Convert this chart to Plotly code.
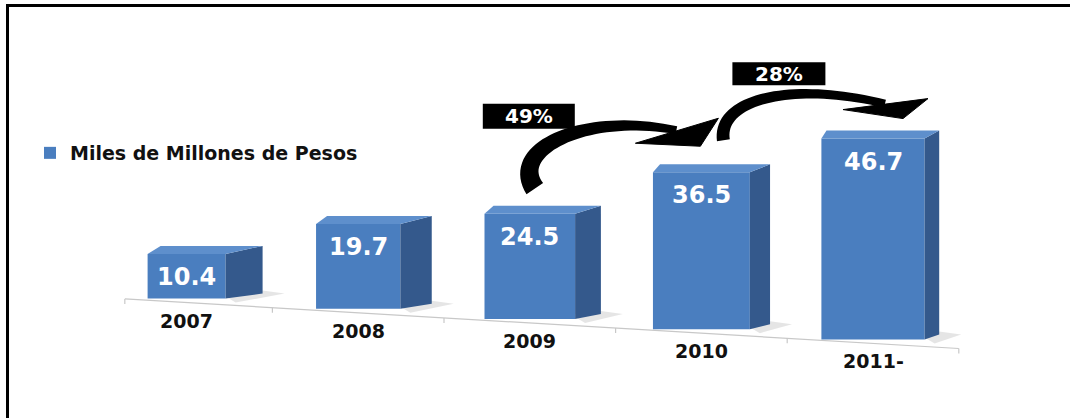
import numpy as np
import plotly.graph_objects as go

# ---------------- data ----------------
YEARS = ["2007", "2008", "2009", "2010", "2011"]
YEAR_LABELS = ["2007", "2008", "2009", "2010", "2011-"]
VALUES = [10.4, 19.7, 24.5, 36.5, 46.7]
SERIES_NAME = "Miles de Millones de Pesos"
GROWTH_LABELS = ["49%", "28%"]
GROWTH_FROM = [2, 3]          # arrow goes from bar i to bar i+1

# ---------------- layout constants (pixels) ----------------
W, H = 1070, 418
X0_PX, X_STEP = 186.6, 171.6      # centre of first category, px per category
Y0_PX, Y_SCALE = 298.6, 4.3       # floor of first bar, px per unit
FLOOR_DROP_PX = 10.2              # perspective drop of the floor per category
TOP_DY = 8                        # depth offset (up) of top face

FRONT = "#4a7ebf"
SIDE = "#34598c"
TOP = "#5e8fcc"
FONT = "DejaVu Sans"

n = len(VALUES)
idx = list(range(n))
bases = [-(FLOOR_DROP_PX / Y_SCALE) * i for i in idx]
width_px = [78 + 6.3 * i for i in idx]
widths = [w / X_STEP for w in width_px]
side_px = [37 - 5.6 * i for i in idx]


def xpx(xi):
    return X0_PX + X_STEP * xi


def ypx(v):
    return Y0_PX - Y_SCALE * v


def to_paper(pts):
    return [(x / W, 1 - y / H) for x, y in pts]


def path_str(pts):
    pp = to_paper(pts)
    return "M " + " L ".join(f"{x:.5f},{y:.5f}" for x, y in pp) + " Z"


shapes = []
annotations = []

# floor line with ticks
t0, t1 = -0.36, 4.5
floor = lambda t: Y0_PX + FLOOR_DROP_PX * t + 4
(fx0, fy0), (fx1, fy1) = to_paper([(xpx(t0), floor(t0)), (xpx(t1), floor(t1))])
shapes.append(dict(type="line", xref="paper", yref="paper", x0=fx0, y0=fy0, x1=fx1, y1=fy1,
                   line=dict(color="#c8c8c8", width=1.2), layer="below"))
for t in [t0] + [i + 0.5 for i in idx]:
    (a, b), (c, d) = to_paper([(xpx(t), floor(t)), (xpx(t), floor(t) + 5)])
    shapes.append(dict(type="line", xref="paper", yref="paper", x0=a, y0=b, x1=c, y1=d,
                       line=dict(color="#c8c8c8", width=1.2), layer="below"))

# pseudo-3D faces, shadows, value and year labels
geo = []
for i in idx:
    cx = xpx(i)
    half = width_px[i] / 2
    xl, xr = cx - half, cx + half
    top = ypx(bases[i] + VALUES[i])
    bot = ypx(bases[i])
    d = side_px[i]
    geo.append(dict(cx=cx, top=top, bot=bot))
    # shadow
    shapes.append(dict(type="path", xref="paper", yref="paper", layer="below",
                       path=path_str([(xr, bot - 2), (xr + d, bot - TOP_DY), (xr + d + 22, bot - TOP_DY + 3),
                                      (xr + 10, bot + 4)]),
                       fillcolor="rgba(0,0,0,0.10)", line=dict(width=0)))
    # side face
    shapes.append(dict(type="path", xref="paper", yref="paper",
                       path=path_str([(xr, top), (xr + d, top - TOP_DY), (xr + d, bot - TOP_DY + 3), (xr, bot)]),
                       fillcolor=SIDE, line=dict(width=0)))
    # top face
    shapes.append(dict(type="path", xref="paper", yref="paper",
                       path=path_str([(xl, top), (xl + d * 0.35, top - TOP_DY), (xr + d, top - TOP_DY), (xr, top)]),
                       fillcolor=TOP, line=dict(width=0)))
    # value label (centre ~23 px below the bar top)
    annotations.append(dict(x=cx / W, y=1 - (top + 23) / H, xref="paper", yref="paper",
                            text=f"{VALUES[i]:.1f}", showarrow=False, xanchor="center", yanchor="middle",
                            font=dict(family=FONT, size=24, color="white", weight="bold")))
    # year label (centre ~22 px below the floor)
    annotations.append(dict(x=cx / W, y=1 - (bot + 22) / H, xref="paper", yref="paper",
                            text=YEAR_LABELS[i], showarrow=False, xanchor="center", yanchor="middle",
                            font=dict(family=FONT, size=19, color="#111111", weight="bold")))

# curved growth arrows (offsets relative to the bars they join)
ARROW_STYLE = [
    dict(p0=(5, -25), p1=(-22, -65), p2=(-116, -60), p3=(-25, -42),
         barb_a=(-66, -29), barb_b=(17, -54), tip=(-1, -26), w0=20, w1=8,
         box=(-1, -97.5), box_w=92, box_h=25),
    dict(p0=(22, -32), p1=(16, -72), p2=(-85, -58), p3=(12, -35),
         barb_a=(-30, -29), barb_b=(55, -40), tip=(30, -20), w0=13, w1=8,
         box=(77.5, -98.5), box_w=93, box_h=23),
]


def bez(P, t):
    P0, P1, P2, P3 = [np.array(p, float) for p in P]
    pt = (1 - t) ** 3 * P0 + 3 * (1 - t) ** 2 * t * P1 + 3 * (1 - t) * t ** 2 * P2 + t ** 3 * P3
    dt = 3 * (1 - t) ** 2 * (P1 - P0) + 6 * (1 - t) * t * (P2 - P1) + 3 * t ** 2 * (P3 - P2)
    return pt, dt / np.linalg.norm(dt)


for k, i in enumerate(GROWTH_FROM):
    s = ARROW_STYLE[k]
    a, b = geo[i], geo[i + 1]
    rel_a = lambda o: (a["cx"] + o[0], a["top"] + o[1])
    rel_b = lambda o: (b["cx"] + o[0], b["top"] + o[1])
    P = [rel_a(s["p0"]), rel_a(s["p1"]), rel_b(s["p2"]), rel_b(s["p3"])]
    left, right = [], []
    for t in np.linspace(0, 1, 41):
        pt, tg = bez(P, t)
        nrm = np.array([-tg[1], tg[0]])
        w = s["w0"] + (s["w1"] - s["w0"]) * t
        left.append(tuple(pt + nrm * w / 2))
        right.append(tuple(pt - nrm * w / 2))
    shapes.append(dict(type="path", xref="paper", yref="paper",
                       path=path_str(left + right[::-1]), fillcolor="black", line=dict(width=0)))
    shapes.append(dict(type="path", xref="paper", yref="paper",
                       path=path_str([rel_b(s["barb_a"]), rel_b(s["barb_b"]), rel_b(s["tip"])]),
                       fillcolor="black", line=dict(color="black", width=1)))
    bx, by = rel_a(s["box"])
    (x0p, y0p), (x1p, y1p) = to_paper([(bx - s["box_w"] / 2, by - s["box_h"] / 2),
                                       (bx + s["box_w"] / 2, by + s["box_h"] / 2)])
    shapes.append(dict(type="rect", xref="paper", yref="paper", x0=x0p, y0=y1p, x1=x1p, y1=y0p,
                       fillcolor="black", line=dict(width=0)))
    annotations.append(dict(x=bx / W, y=1 - by / H, xref="paper", yref="paper", text=GROWTH_LABELS[k],
                            showarrow=False, xanchor="center", yanchor="middle",
                            font=dict(family=FONT, size=20, color="white", weight="bold")))

# frame (left and top border)
shapes.append(dict(type="line", xref="paper", yref="paper", x0=7.5 / W, x1=7.5 / W, y0=0, y1=1 - 4 / H,
                   line=dict(color="black", width=3)))
shapes.append(dict(type="line", xref="paper", yref="paper", x0=6 / W, x1=1, y0=1 - 5.5 / H, y1=1 - 5.5 / H,
                   line=dict(color="black", width=3)))

fig = go.Figure(go.Bar(
    x=YEARS, y=VALUES, base=bases, width=widths, name=SERIES_NAME,
    marker=dict(color=FRONT, line=dict(width=0)), showlegend=True,
))

fig.update_layout(
    width=W, height=H,
    margin=dict(l=0, r=0, t=0, b=0),
    paper_bgcolor="white", plot_bgcolor="white",
    xaxis=dict(type="category", range=[-X0_PX / X_STEP, (W - X0_PX) / X_STEP], visible=False),
    yaxis=dict(range=[-(H - Y0_PX) / Y_SCALE, Y0_PX / Y_SCALE], visible=False),
    showlegend=True,
    legend=dict(x=30 / W, y=1 - 134 / H, xanchor="left", yanchor="top", bgcolor="rgba(0,0,0,0)",
                font=dict(family=FONT, size=19, color="#111111", weight="bold")),
    shapes=shapes,
    annotations=annotations,
)

fig.write_html("out.html")
